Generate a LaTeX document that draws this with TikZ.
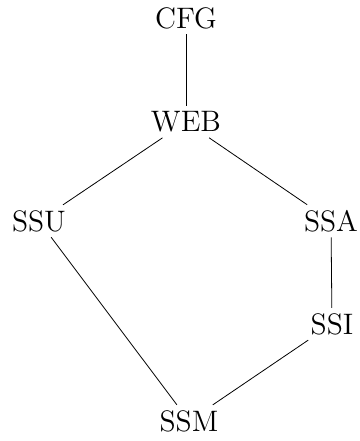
\documentclass[tikz,border=0pt]{standalone}
\begin{document}
\begin{tikzpicture}[x=1pt,y=1pt,
  lbl/.style={font=\fontsize{14.8}{17}\selectfont, inner sep=2.5pt},
  edge/.style={line width=0.4pt}]
\useasboundingbox (0,0) rectangle (180,220.5);
\node[lbl] (cfg) at (93,211.5) {CFG};
\node[lbl] (web) at (93,159.5) {WEB};
\node[lbl] (ssu) at (19.5,110) {SSU};
\node[lbl] (ssa) at (165.5,110) {SSA};
\node[lbl] (ssi) at (166,58.5) {SSI};
\node[lbl] (ssm) at (94.5,10) {SSM};
\draw[edge] (cfg) -- (web);
\draw[edge] (web) -- (ssu);
\draw[edge] (web) -- (ssa);
\draw[edge] (ssu) -- (ssm);
\draw[edge] (ssa) -- (ssi);
\draw[edge] (ssi) -- (ssm);
\end{tikzpicture}
\end{document}
